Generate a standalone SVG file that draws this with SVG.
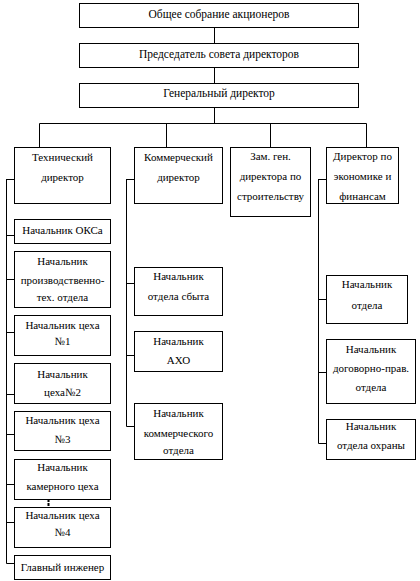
<svg xmlns="http://www.w3.org/2000/svg" width="420" height="581" viewBox="0 0 420 581">
<style>
.b{fill:#fff;stroke:#000;stroke-width:1}
.t{font-family:"Liberation Serif","DejaVu Serif",serif;font-size:11px;fill:#000;text-anchor:middle}
.top{font-size:11.5px}
.c{stroke:#000;stroke-width:1;fill:none}
</style>
<rect width="420" height="581" fill="#fff"/>
<g id="connectors">
<path class="c" d="M214.5 27V43M214.5 67V83M214.5 107V123.5M39.5 123.5H366.5M39.5 123.5V147M166.5 123.5V147M270.5 123.5V147M366.5 123.5V147"/>
<path class="c" d="M6.5 179V563.5M6.5 179.5H14M6.5 235.5H14M6.5 279.5H14M6.5 332.5H14M6.5 394.5H14M6.5 434.5H14M6.5 484.5H14M6.5 522.5H14M6.5 563.5H14"/>
<path class="c" d="M126.5 179V426.5M126.5 179.5H134M126.5 283.5H134M126.5 355.5H134M126.5 426.5H134"/>
<path class="c" d="M318.5 179V443.5M318.5 179.5H326M318.5 299.5H326M318.5 372.5H326M318.5 443.5H326"/>
<path d="M48.5 499V508" stroke="#000" stroke-width="2" stroke-dasharray="3,1" fill="none"/>
</g>
<g id="n1"><rect class="b" x="79.5" y="3.5" width="279" height="24"/><text class="t top" x="219" y="17.5">Общее собрание акционеров</text></g>
<g id="n2"><rect class="b" x="79.5" y="43.5" width="279" height="24"/><text class="t top" x="219" y="57.5">Председатель совета директоров</text></g>
<g id="n3"><rect class="b" x="79.5" y="83.5" width="279" height="24"/><text class="t top" x="219" y="97">Генеральный директор</text></g>
<g id="n4"><rect class="b" x="14.5" y="147.5" width="96" height="56"/><text class="t" x="62.5" y="160.5">Технический</text><text class="t" x="62.5" y="181">директор</text></g>
<g id="n5"><rect class="b" x="134.5" y="147.5" width="88" height="56"/><text class="t" x="178.5" y="160.5">Коммерческий</text><text class="t" x="178.5" y="180.5">директор</text></g>
<g id="n6"><rect class="b" x="230.5" y="147.5" width="80" height="69"/><text class="t" x="270.5" y="159.5">Зам. ген.</text><text class="t" x="270.5" y="179.5">директора по</text><text class="t" x="270.5" y="199.5">строительству</text></g>
<g id="n7"><rect class="b" x="326.5" y="147.5" width="72" height="56"/><text class="t" x="362.5" y="159.5">Директор по</text><text class="t" x="362.5" y="179.5">экономике и</text><text class="t" x="362.5" y="199.5">финансам</text></g>
<g id="n8"><rect class="b" x="14.5" y="219.5" width="96" height="24"/><text class="t" x="62.5" y="234">Начальник ОКСа</text></g>
<g id="n9"><rect class="b" x="14.5" y="251.5" width="96" height="56"/><text class="t" x="62.5" y="265">Начальник</text><text class="t" x="62.5" y="283.5">производственно-</text><text class="t" x="62.5" y="301">тех. отдела</text></g>
<g id="n10"><rect class="b" x="14.5" y="315.5" width="96" height="40"/><text class="t" x="62.5" y="328.5">Начальник цеха</text><text class="t" x="62.5" y="345">№1</text></g>
<g id="n11"><rect class="b" x="14.5" y="363.5" width="96" height="40"/><text class="t" x="62.5" y="377.5">Начальник</text><text class="t" x="62.5" y="396">цеха№2</text></g>
<g id="n12"><rect class="b" x="14.5" y="411.5" width="96" height="39"/><text class="t" x="62.5" y="424">Начальник цеха</text><text class="t" x="62.5" y="443">№3</text></g>
<g id="n13"><rect class="b" x="14.5" y="459.5" width="96" height="40"/><text class="t" x="62.5" y="471">Начальник</text><text class="t" x="62.5" y="490">камерного цеха</text></g>
<g id="n14"><rect class="b" x="14.5" y="507.5" width="96" height="40"/><text class="t" x="62.5" y="519">Начальник цеха</text><text class="t" x="62.5" y="536">№4</text></g>
<g id="n15"><rect class="b" x="14.5" y="555.5" width="96" height="24"/><text class="t" x="62.5" y="571">Главный инженер</text></g>
<g id="n16"><rect class="b" x="134.5" y="267.5" width="88" height="48"/><text class="t" x="178.5" y="280">Начальник</text><text class="t" x="178.5" y="300">отдела сбыта</text></g>
<g id="n17"><rect class="b" x="134.5" y="331.5" width="88" height="40"/><text class="t" x="178.5" y="344.5">Начальник</text><text class="t" x="178.5" y="363.5">АХО</text></g>
<g id="n18"><rect class="b" x="134.5" y="403.5" width="88" height="56"/><text class="t" x="178.5" y="417">Начальник</text><text class="t" x="178.5" y="437">коммерческого</text><text class="t" x="178.5" y="454">отдела</text></g>
<g id="n19"><rect class="b" x="326.5" y="275.5" width="81" height="48"/><text class="t" x="367" y="287.5">Начальник</text><text class="t" x="367" y="308.5">отдела</text></g>
<g id="n20"><rect class="b" x="326.5" y="339.5" width="89" height="64"/><text class="t" x="371" y="353">Начальник</text><text class="t" x="371" y="372">договорно-прав.</text><text class="t" x="371" y="391">отдела</text></g>
<g id="n21"><rect class="b" x="326.5" y="419.5" width="89" height="40"/><text class="t" x="371" y="430">Начальник</text><text class="t" x="371" y="448.5">отдела охраны</text></g>
</svg>
